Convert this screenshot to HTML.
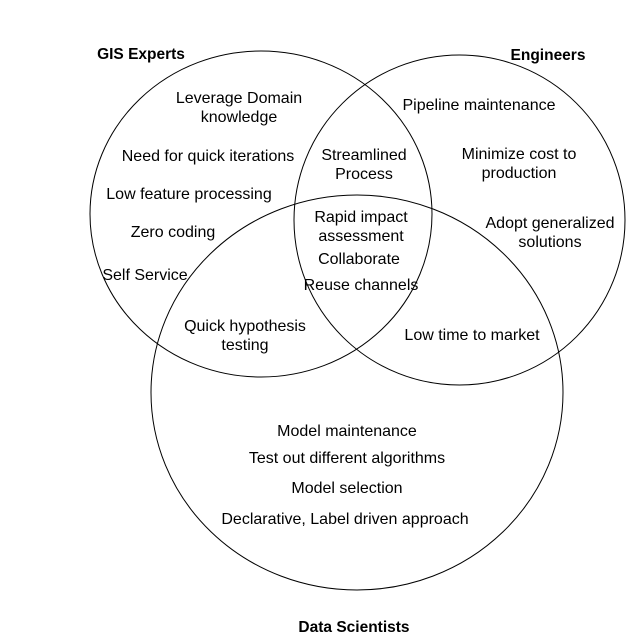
<!DOCTYPE html>
<html><head><style>body{margin:0;background:#fff}svg{display:block}text{font-family:"Liberation Sans",Arial,sans-serif;font-size:16px;fill:#000;text-anchor:middle}.b{font-weight:bold;font-size:15.5px}</style></head>
<body>
<svg width="627" height="642" viewBox="0 0 627 642">
<g fill="none" stroke="#000" stroke-width="1">
<ellipse cx="261" cy="214" rx="171" ry="163"/>
<ellipse cx="459.5" cy="220" rx="165.5" ry="165"/>
<ellipse cx="357" cy="392.5" rx="206" ry="197.5"/>
</g>
<text class="b" x="141" y="59">GIS Experts</text>
<text class="b" x="548" y="60">Engineers</text>
<text class="b" x="354" y="632">Data Scientists</text>
<text x="239" y="103">Leverage Domain</text>
<text x="239" y="122">knowledge</text>
<text x="208" y="161">Need for quick iterations</text>
<text x="189" y="199">Low feature processing</text>
<text x="173" y="237">Zero coding</text>
<text x="145" y="280">Self Service</text>
<text x="364" y="160">Streamlined</text>
<text x="364" y="179">Process</text>
<text x="479" y="110">Pipeline maintenance</text>
<text x="519" y="159">Minimize cost to</text>
<text x="519" y="178">production</text>
<text x="550" y="228">Adopt generalized</text>
<text x="550" y="247">solutions</text>
<text x="361" y="222">Rapid impact</text>
<text x="361" y="241">assessment</text>
<text x="359" y="264">Collaborate</text>
<text x="361" y="290">Reuse channels</text>
<text x="245" y="331">Quick hypothesis</text>
<text x="245" y="350">testing</text>
<text x="472" y="340">Low time to market</text>
<text x="347" y="436">Model maintenance</text>
<text x="347" y="463">Test out different algorithms</text>
<text x="347" y="493">Model selection</text>
<text x="345" y="524">Declarative, Label driven approach</text>
</svg>
</body></html>
